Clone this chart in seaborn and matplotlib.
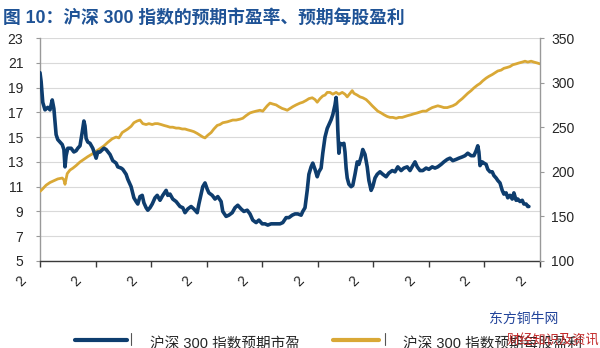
import matplotlib
matplotlib.use("Agg")
import matplotlib.pyplot as plt
import seaborn as sns
import pandas as pd
from matplotlib.lines import Line2D
from matplotlib.transforms import ScaledTranslation

sns.set_theme(style="white")
plt.rcParams["font.family"] = ["Liberation Sans", "Noto Sans CJK SC"]
plt.rcParams["axes.unicode_minus"] = False

# Forward P/E of the CSI 300 (left axis); x in years from the first tick
pe_t = [0.00, 0.02, 0.05, 0.09, 0.14, 0.18, 0.22, 0.25, 0.29, 0.32, 0.36, 0.40, 0.43, 0.45, 0.47,
        0.50, 0.56, 0.61, 0.65, 0.68, 0.72, 0.76, 0.79, 0.81, 0.83, 0.86, 0.90, 0.95, 1.01, 1.04,
        1.08, 1.15, 1.19, 1.26, 1.31, 1.37, 1.40, 1.46, 1.49, 1.55, 1.58, 1.64, 1.69, 1.73, 1.76,
        1.80, 1.84, 1.87, 1.91, 1.94, 1.98, 2.02, 2.07, 2.11, 2.16, 2.21, 2.27, 2.30, 2.34, 2.39,
        2.45, 2.52, 2.57, 2.61, 2.66, 2.72, 2.77, 2.83, 2.86, 2.90, 2.93, 2.97, 3.01, 3.04, 3.10,
        3.15, 3.20, 3.26, 3.29, 3.35, 3.40, 3.46, 3.51, 3.56, 3.62, 3.67, 3.73, 3.78, 3.83, 3.89,
        3.94, 4.00, 4.05, 4.10, 4.16, 4.21, 4.27, 4.32, 4.37, 4.43, 4.48, 4.54, 4.59, 4.64, 4.70,
        4.73, 4.77, 4.81, 4.84, 4.88, 4.91, 4.95, 4.99, 5.02, 5.06, 5.09, 5.13, 5.17, 5.20, 5.24,
        5.27, 5.31, 5.33, 5.35, 5.36, 5.38, 5.40, 5.44, 5.47, 5.49, 5.51, 5.53, 5.56, 5.60, 5.63,
        5.67, 5.71, 5.74, 5.78, 5.81, 5.85, 5.89, 5.92, 5.96, 5.99, 6.03, 6.07, 6.12, 6.17, 6.23,
        6.28, 6.34, 6.39, 6.44, 6.50, 6.55, 6.61, 6.66, 6.71, 6.75, 6.79, 6.84, 6.89, 6.95, 7.00,
        7.06, 7.11, 7.16, 7.22, 7.27, 7.33, 7.38, 7.43, 7.49, 7.54, 7.60, 7.65, 7.70, 7.76, 7.81,
        7.85, 7.88, 7.90, 7.92, 7.96, 7.99, 8.03, 8.06, 8.10, 8.14, 8.17, 8.21, 8.24, 8.28, 8.32,
        8.35, 8.39, 8.42, 8.46, 8.50, 8.53, 8.57, 8.60, 8.64, 8.68, 8.71, 8.75, 8.78, 8.80]
pe_val = [20.2, 19.5, 17.8, 17.2, 17.4, 17.2, 18.0, 17.3, 15.2, 14.8, 14.6, 14.4, 14.0, 12.6, 13.5,
          14.1, 14.1, 13.8, 13.9, 14.1, 14.3, 15.4, 16.3, 15.9, 14.9, 14.6, 14.5, 14.1, 13.3, 13.8,
          13.8, 14.1, 14.0, 13.6, 13.1, 12.9, 12.6, 12.5, 12.4, 12.0, 11.6, 11.0, 10.1, 9.8, 9.6,
          10.2, 10.3, 9.7, 9.3, 9.1, 9.3, 9.6, 10.1, 10.3, 9.9, 10.3, 10.7, 10.3, 10.4, 10.0,
          9.8, 9.4, 9.3, 8.9, 9.2, 9.4, 9.2, 8.9, 9.6, 10.4, 11.0, 11.3, 10.8, 10.5, 10.3,
          10.0, 10.2, 9.8, 9.0, 8.6, 8.7, 8.9, 9.3, 9.5, 9.2, 9.0, 9.1, 8.8, 8.3, 8.1,
          8.3, 8.0, 8.0, 7.9, 8.0, 8.0, 8.0, 8.0, 8.1, 8.5, 8.5, 8.7, 8.8, 8.8, 8.7,
          9.0, 9.3, 10.7, 12.0, 12.6, 12.9, 12.4, 11.8, 12.2, 12.5, 13.7, 15.0, 15.7, 16.0, 16.4,
          16.8, 17.6, 18.2, 17.0, 15.6, 13.7, 14.5, 14.4, 14.5, 13.8, 12.5, 11.7, 11.2, 11.0, 11.1,
          12.0, 13.0, 12.8, 13.4, 14.0, 13.6, 12.6, 11.5, 10.7, 11.0, 11.7, 12.0, 12.2, 12.0, 11.8,
          12.1, 12.3, 12.2, 12.6, 12.3, 12.5, 12.6, 12.3, 12.7, 13.0, 12.6, 12.3, 12.3, 12.5, 12.4,
          12.6, 12.5, 12.6, 12.8, 13.0, 13.2, 13.3, 13.1, 13.2, 13.3, 13.4, 13.5, 13.7, 13.5, 13.5,
          13.9, 14.3, 13.8, 12.7, 13.0, 12.9, 12.8, 12.4, 12.2, 12.2, 11.9, 11.7, 11.5, 11.3, 10.7,
          10.4, 10.5, 10.1, 10.3, 10.0, 10.5, 9.9, 10.0, 9.8, 9.9, 9.6, 9.6, 9.4, 9.4]

# Forward EPS of the CSI 300 (right axis)
eps_t = [0.00, 0.05, 0.11, 0.18, 0.25, 0.32, 0.40, 0.43, 0.45, 0.49, 0.54, 0.59, 0.65, 0.72, 0.79,
         0.86, 0.94, 1.01, 1.08, 1.15, 1.22, 1.30, 1.37, 1.42, 1.48, 1.53, 1.58, 1.64, 1.69, 1.75,
         1.80, 1.85, 1.91, 1.96, 2.02, 2.07, 2.12, 2.18, 2.23, 2.29, 2.34, 2.39, 2.45, 2.50, 2.56,
         2.61, 2.66, 2.72, 2.77, 2.83, 2.88, 2.93, 2.97, 3.02, 3.08, 3.13, 3.19, 3.24, 3.29, 3.37,
         3.42, 3.47, 3.53, 3.60, 3.65, 3.71, 3.78, 3.83, 3.89, 3.96, 4.01, 4.09, 4.14, 4.19, 4.25,
         4.30, 4.36, 4.41, 4.45, 4.50, 4.55, 4.61, 4.68, 4.73, 4.79, 4.84, 4.90, 4.95, 4.99, 5.04,
         5.09, 5.13, 5.17, 5.22, 5.27, 5.33, 5.38, 5.44, 5.49, 5.53, 5.58, 5.62, 5.65, 5.71, 5.76,
         5.81, 5.87, 5.92, 5.98, 6.03, 6.08, 6.14, 6.19, 6.25, 6.30, 6.35, 6.41, 6.46, 6.52, 6.57,
         6.62, 6.68, 6.73, 6.79, 6.84, 6.89, 6.95, 7.00, 7.06, 7.11, 7.16, 7.22, 7.27, 7.33, 7.38,
         7.43, 7.49, 7.54, 7.60, 7.65, 7.70, 7.76, 7.81, 7.87, 7.92, 7.97, 8.03, 8.08, 8.14, 8.19,
         8.24, 8.30, 8.35, 8.41, 8.46, 8.51, 8.57, 8.62, 8.68, 8.73, 8.78, 8.84, 8.89, 8.95, 9.00]
eps_val = [178, 181, 185, 188, 190, 192, 193, 191, 186, 198, 202, 204, 207, 211, 214,
           217, 220, 223, 226, 229, 233, 237, 239, 238, 244, 246, 248, 251, 255, 257,
           258, 254, 253, 254, 253, 254, 254, 253, 252, 251, 250, 250, 249, 249, 248,
           248, 247, 246, 245, 243, 241, 239, 238, 241, 244, 248, 252, 253, 255, 256,
           257, 258, 258, 259, 260, 263, 266, 267, 268, 269, 268, 274, 277, 276, 275,
           273, 271, 270, 269, 271, 273, 275, 277, 278, 280, 282, 283, 281, 278, 282,
           285, 286, 289, 289, 287, 289, 287, 289, 287, 284, 288, 291, 288, 286, 284,
           283, 281, 278, 274, 271, 268, 266, 264, 262, 261, 261, 260, 261, 261, 262,
           263, 264, 265, 266, 267, 268, 268, 270, 272, 273, 274, 273, 272, 272, 273,
           274, 276, 279, 282, 285, 288, 291, 294, 297, 299, 302, 305, 307, 309, 311,
           313, 314, 316, 317, 318, 320, 321, 322, 323, 324, 323, 324, 323, 322, 321]

left_ticks = [5, 7, 9, 11, 13, 15, 17, 19, 21, 23]
right_ticks = [100, 150, 200, 250, 300, 350]
x_ticks = list(range(10))
x_ticklabels = ["2"] * 10

title = "图 10：沪深 300 指数的预期市盈率、预期每股盈利"
pe_label = "沪深 300 指数预期市盈"
eps_label = "沪深 300 指数预期每股盈利"

BLUE = "#0e3d6e"
GOLD = "#d9a836"
TXT = "#262626"

pe_df = pd.DataFrame({"t": pe_t, "pe": pe_val})
eps_df = pd.DataFrame({"t": eps_t, "eps": eps_val})

fig = plt.figure(figsize=(6, 3.48), dpi=100)
rect = [40 / 600, 1 - 261 / 348, 500 / 600, 223 / 348]

# base axes: left scale, gridlines
ax = fig.add_axes(rect)
ax.set_xlim(0, 9)
ax.set_ylim(5, 23)
ax.set_yticks(left_ticks)
ax.grid(axis="y", color="#d9d9d9", linewidth=0.8)
ax.grid(axis="x", visible=False)

# right scale: EPS
ax2 = ax.twinx()
sns.lineplot(data=eps_df, x="t", y="eps", ax=ax2, color=GOLD, linewidth=2.0)
ax2.set_ylim(100, 350)
ax2.set_yticks(right_ticks)
ax2.set_ylabel("")
ax2.grid(False)

# overlay on left scale: P/E drawn above the EPS line
ax3 = fig.add_axes(rect, sharex=ax, sharey=ax)
ax3.patch.set_visible(False)
sns.lineplot(data=pe_df, x="t", y="pe", ax=ax3, color=BLUE, linewidth=2.6)
ax3.axis("off")
ax3.set_xlim(0, 9)
ax3.set_ylim(5, 23)

ax.set_xticks(x_ticks)
ax.set_xticklabels(x_ticklabels, rotation=45, ha="center", va="top")
ax.set_xlabel("")
ax.set_ylabel("")

for s in ["top"]:
    ax.spines[s].set_visible(False)
    ax2.spines[s].set_visible(False)
ax.spines["left"].set_color("#999999")
ax2.spines["left"].set_visible(False)
ax2.spines["right"].set_color("#999999")
ax2.spines["bottom"].set_visible(False)
ax.spines["right"].set_visible(False)
ax.spines["bottom"].set_color("#3a3a3a")
for a in (ax, ax2):
    for sp in a.spines.values():
        sp.set_linewidth(1.0)

ax.tick_params(axis="y", which="both", left=True, direction="out", length=3, width=0.8,
               color="#999999", pad=9, labelsize=10, labelcolor=TXT)
ax.tick_params(axis="x", which="both", bottom=True, direction="out", length=4, width=1.0,
               color="#3a3a3a", pad=5, labelsize=10, labelcolor=TXT)
ax2.tick_params(axis="y", which="both", right=True, direction="out", length=3, width=0.8,
                color="#999999", pad=5, labelsize=10, labelcolor=TXT)

shift = ScaledTranslation(-19 / 100, 0, fig.dpi_scale_trans)
for lab in ax.get_xticklabels():
    lab.set_transform(lab.get_transform() + shift)

fig.text(3 / 600, 1 - 18 / 348, title, fontsize=12.8, fontweight="bold", color="#1f5396",
         va="center", ha="left", family=["Liberation Sans", "Noto Sans CJK SC"])

# legend row along the bottom edge
ly = 1 - 340 / 348
fig.add_artist(Line2D([75 / 600, 127 / 600], [ly, ly], color=BLUE, linewidth=3))
fig.add_artist(Line2D([131 / 600, 131 / 600], [1 - 345 / 348, 1 - 333 / 348], color="#555555", linewidth=0.8))
fig.text(150 / 600, 1 - 344 / 348, pe_label, fontsize=10.5, color=TXT, va="center", ha="left")
fig.add_artist(Line2D([333 / 600, 379 / 600], [ly, ly], color=GOLD, linewidth=3))
fig.add_artist(Line2D([385 / 600, 385 / 600], [1 - 345 / 348, 1 - 333 / 348], color="#555555", linewidth=0.8))
fig.text(403 / 600, 1 - 344 / 348, eps_label, fontsize=10.5, color=TXT, va="center", ha="left")

# site watermark
fig.text(489 / 600, 1 - 319 / 348, "东方铜牛网", fontsize=10, color="#22449a", va="center", ha="left")
fig.text(507 / 600, 1 - 341 / 348, "财经知识及资讯", fontsize=9.5, color="#c42a2a", va="center", ha="left")

fig.savefig("out.png", dpi=100)
